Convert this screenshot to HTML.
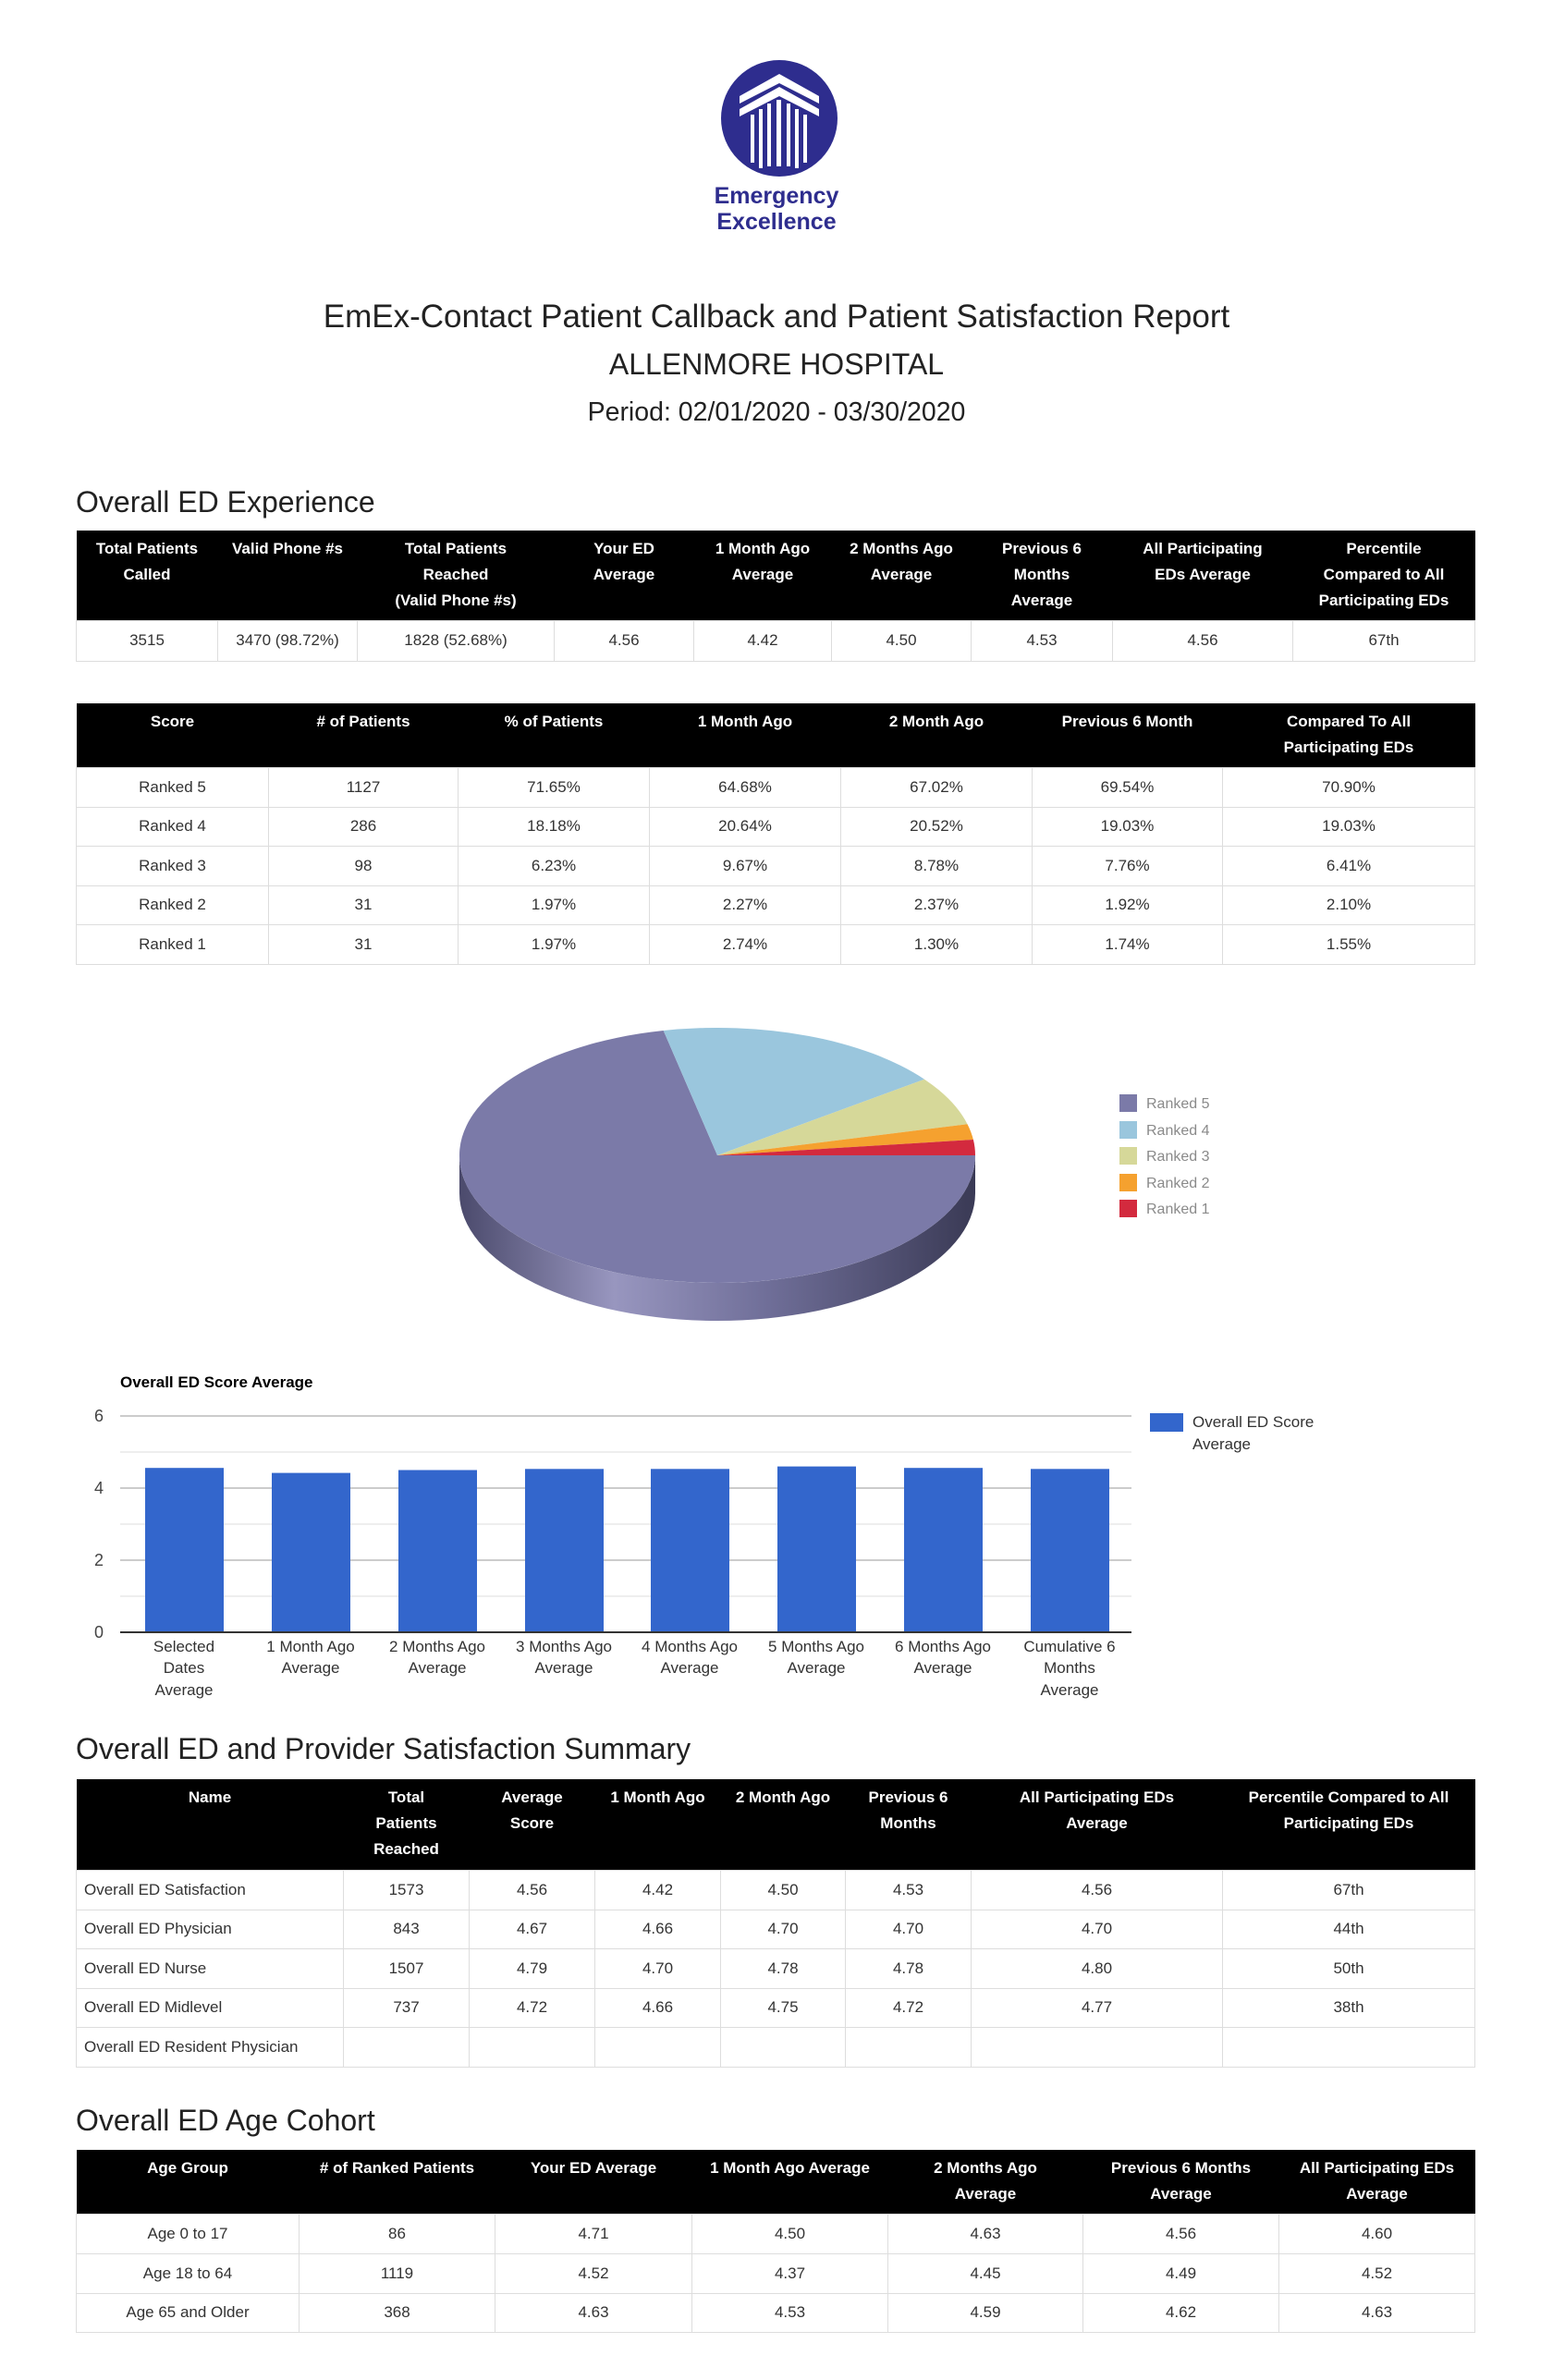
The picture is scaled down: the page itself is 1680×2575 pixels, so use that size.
<!DOCTYPE html>
<html><head><meta charset="utf-8">
<style>
html,body{margin:0;padding:0;background:#fff;}
body{width:1680px;height:2575px;position:relative;overflow:hidden;font-family:"Liberation Sans",Arial,sans-serif;color:#333;}
.abs{position:absolute;}
.c{text-align:center;left:0;width:1680px;color:#222;}
h2{position:absolute;left:82px;margin:0;font-weight:normal;font-size:32px;color:#222;line-height:1;}
table{position:absolute;border-collapse:collapse;table-layout:fixed;font-size:17px;}
th{background:#000;color:#fff;font-weight:bold;vertical-align:top;line-height:28px;padding:6px 0 0;text-align:center;border:0;white-space:nowrap;overflow:hidden;}
td{border:1.5px solid #ddd;text-align:center;padding:0;color:#333;}
td.l{text-align:left;padding-left:8px;}
</style></head><body>

<svg class="abs" style="left:0;top:0" width="1680" height="260">
  <circle cx="843" cy="128" r="63" fill="#2e2d8e"/>
  <polygon points="843,80 800,104 800,112 843,90 886,112 886,104" fill="#fff"/>
  <polygon points="843,94 800,118 800,126 843,104 886,126 886,118" fill="#fff"/>
  <g fill="#fff">
    <rect x="812" y="124" width="4" height="52"/>
    <rect x="821" y="118" width="4" height="64"/>
    <rect x="830" y="112" width="4" height="68"/>
    <rect x="840" y="108" width="5" height="72"/>
    <rect x="851" y="112" width="4" height="68"/>
    <rect x="860" y="118" width="4" height="64"/>
    <rect x="869" y="124" width="4" height="52"/>
  </g>
</svg>
<div class="abs c" style="top:198px;font-size:25px;font-weight:bold;color:#2e2d8e;line-height:28px;">Emergency<br>Excellence</div>

<div class="abs c" style="top:323px;font-size:35px;">EmEx-Contact Patient Callback and Patient Satisfaction Report</div>
<div class="abs c" style="top:376px;font-size:32px;">ALLENMORE HOSPITAL</div>
<div class="abs c" style="top:430px;font-size:28.5px;">Period: 02/01/2020 - 03/30/2020</div>

<h2 style="top:527px;">Overall ED Experience</h2>
<table style="left:82px;top:574px;width:1513px;">
<colgroup><col style="width:153px"><col style="width:151px"><col style="width:213px"><col style="width:151px"><col style="width:149px"><col style="width:151px"><col style="width:153px"><col style="width:195px"><col style="width:197px"></colgroup>
<tr style="height:97px"><th>Total Patients<br>Called</th><th>Valid Phone #s</th><th>Total Patients<br>Reached<br>(Valid Phone #s)</th><th>Your ED<br>Average</th><th>1 Month Ago<br>Average</th><th>2 Months Ago<br>Average</th><th>Previous 6<br>Months<br>Average</th><th>All Participating<br>EDs Average</th><th>Percentile<br>Compared to All<br>Participating EDs</th></tr>
<tr style="height:44px"><td>3515</td><td>3470 (98.72%)</td><td>1828 (52.68%)</td><td>4.56</td><td>4.42</td><td>4.50</td><td>4.53</td><td>4.56</td><td>67th</td></tr>
</table>

<table style="left:82px;top:761px;width:1513px;">
<colgroup><col style="width:208px"><col style="width:205px"><col style="width:207px"><col style="width:207px"><col style="width:207px"><col style="width:206px"><col style="width:273px"></colgroup>
<tr style="height:69px"><th>Score</th><th># of Patients</th><th>% of Patients</th><th>1 Month Ago</th><th>2 Month Ago</th><th>Previous 6 Month</th><th>Compared To All<br>Participating EDs</th></tr>
<tr style="height:43px"><td>Ranked 5</td><td>1127</td><td>71.65%</td><td>64.68%</td><td>67.02%</td><td>69.54%</td><td>70.90%</td></tr>
<tr style="height:42px"><td>Ranked 4</td><td>286</td><td>18.18%</td><td>20.64%</td><td>20.52%</td><td>19.03%</td><td>19.03%</td></tr>
<tr style="height:43px"><td>Ranked 3</td><td>98</td><td>6.23%</td><td>9.67%</td><td>8.78%</td><td>7.76%</td><td>6.41%</td></tr>
<tr style="height:42px"><td>Ranked 2</td><td>31</td><td>1.97%</td><td>2.27%</td><td>2.37%</td><td>1.92%</td><td>2.10%</td></tr>
<tr style="height:43px"><td>Ranked 1</td><td>31</td><td>1.97%</td><td>2.74%</td><td>1.30%</td><td>1.74%</td><td>1.55%</td></tr>
</table>

<svg class="abs" style="left:0;top:1080px" width="1680" height="400" viewBox="0 1080 1680 400">
  <defs>
    <linearGradient id="side" x1="497" x2="1055" y1="0" y2="0" gradientUnits="userSpaceOnUse">
      <stop offset="0" stop-color="#4b4a6c"/>
      <stop offset="0.3" stop-color="#9896bf"/>
      <stop offset="0.6" stop-color="#6f6e98"/>
      <stop offset="1" stop-color="#3a3a55"/>
    </linearGradient>
  </defs>
  <path d="M497,1250 L497,1291 A279,138 0 0 0 1055,1291 L1055,1250 A279,138 0 0 1 497,1250 Z" fill="url(#side)"/>
  <path d="M776,1250 L717.7,1115 A279,138 0 1 0 1055,1250 Z" fill="#7b7aa8"/>
  <path d="M776,1250 L1000,1167.7 A279,138 0 0 0 717.7,1115 Z" fill="#9ac6dd"/>
  <path d="M776,1250 L1046.5,1216.2 A279,138 0 0 0 1000,1167.7 Z" fill="#d6d899"/>
  <path d="M776,1250 L1052.9,1233 A279,138 0 0 0 1046.5,1216.2 Z" fill="#f5a12f"/>
  <path d="M776,1250 L1055,1250 A279,138 0 0 0 1052.9,1233 Z" fill="#d32a3e"/>
  <g font-family="Liberation Sans, Arial, sans-serif" font-size="16" fill="#8a8a8a">
    <rect x="1211" y="1184" width="19" height="19" fill="#7b7aa8"/><text x="1240" y="1199">Ranked 5</text>
    <rect x="1211" y="1213" width="19" height="19" fill="#9ac6dd"/><text x="1240" y="1228">Ranked 4</text>
    <rect x="1211" y="1241" width="19" height="19" fill="#d6d899"/><text x="1240" y="1256">Ranked 3</text>
    <rect x="1211" y="1270" width="19" height="19" fill="#f5a12f"/><text x="1240" y="1285">Ranked 2</text>
    <rect x="1211" y="1298" width="19" height="19" fill="#d32a3e"/><text x="1240" y="1313">Ranked 1</text>
  </g>
</svg>

<svg class="abs" style="left:0;top:1470px" width="1680" height="400" viewBox="0 1470 1680 400" font-family="Liberation Sans, Arial, sans-serif">
  <text x="130" y="1501" font-size="17" font-weight="bold" fill="#000">Overall ED Score Average</text>
  <g stroke-width="2">
    <line x1="130" x2="1224" y1="1532" y2="1532" stroke="#ccc"/>
    <line x1="130" x2="1224" y1="1571" y2="1571" stroke="#eee"/>
    <line x1="130" x2="1224" y1="1610" y2="1610" stroke="#ccc"/>
    <line x1="130" x2="1224" y1="1649" y2="1649" stroke="#eee"/>
    <line x1="130" x2="1224" y1="1688" y2="1688" stroke="#ccc"/>
    <line x1="130" x2="1224" y1="1727" y2="1727" stroke="#eee"/>
  </g>
  <g font-size="18" fill="#444" text-anchor="end">
    <text x="112" y="1538">6</text><text x="112" y="1616">4</text><text x="112" y="1694">2</text><text x="112" y="1772">0</text>
  </g>
  <g fill="#3366cc">
    <rect x="157" y="1588.2" width="85" height="177.8"/>
    <rect x="294" y="1593.6" width="85" height="172.4"/>
    <rect x="431" y="1590.5" width="85" height="175.5"/>
    <rect x="568" y="1589.3" width="85" height="176.7"/>
    <rect x="704" y="1589.3" width="85" height="176.7"/>
    <rect x="841" y="1586.6" width="85" height="179.4"/>
    <rect x="978" y="1588.2" width="85" height="177.8"/>
    <rect x="1115" y="1589.3" width="85" height="176.7"/>
  </g>
  <line x1="130" x2="1224" y1="1766" y2="1766" stroke="#333" stroke-width="2"/>
  <g font-size="17" fill="#333" text-anchor="middle">
    <text x="199" y="1787">Selected</text><text x="199" y="1810">Dates</text><text x="199" y="1834">Average</text>
    <text x="336" y="1787">1 Month Ago</text><text x="336" y="1810">Average</text>
    <text x="473" y="1787">2 Months Ago</text><text x="473" y="1810">Average</text>
    <text x="610" y="1787">3 Months Ago</text><text x="610" y="1810">Average</text>
    <text x="746" y="1787">4 Months Ago</text><text x="746" y="1810">Average</text>
    <text x="883" y="1787">5 Months Ago</text><text x="883" y="1810">Average</text>
    <text x="1020" y="1787">6 Months Ago</text><text x="1020" y="1810">Average</text>
    <text x="1157" y="1787">Cumulative 6</text><text x="1157" y="1810">Months</text><text x="1157" y="1834">Average</text>
  </g>
  <rect x="1244" y="1529" width="36" height="20" fill="#3366cc"/>
  <text x="1290" y="1544" font-size="17" fill="#333">Overall ED Score</text>
  <text x="1290" y="1568" font-size="17" fill="#333">Average</text>
</svg>

<h2 style="top:1876px;">Overall ED and Provider Satisfaction Summary</h2>
<table style="left:82px;top:1925px;width:1513px;">
<colgroup><col style="width:289px"><col style="width:136px"><col style="width:136px"><col style="width:136px"><col style="width:135px"><col style="width:136px"><col style="width:272px"><col style="width:273px"></colgroup>
<tr style="height:98px"><th>Name</th><th>Total<br>Patients<br>Reached</th><th>Average<br>Score</th><th>1 Month Ago</th><th>2 Month Ago</th><th>Previous 6<br>Months</th><th>All Participating EDs<br>Average</th><th>Percentile Compared to All<br>Participating EDs</th></tr>
<tr style="height:43px"><td class="l">Overall ED Satisfaction</td><td>1573</td><td>4.56</td><td>4.42</td><td>4.50</td><td>4.53</td><td>4.56</td><td>67th</td></tr>
<tr style="height:42px"><td class="l">Overall ED Physician</td><td>843</td><td>4.67</td><td>4.66</td><td>4.70</td><td>4.70</td><td>4.70</td><td>44th</td></tr>
<tr style="height:43px"><td class="l">Overall ED Nurse</td><td>1507</td><td>4.79</td><td>4.70</td><td>4.78</td><td>4.78</td><td>4.80</td><td>50th</td></tr>
<tr style="height:42px"><td class="l">Overall ED Midlevel</td><td>737</td><td>4.72</td><td>4.66</td><td>4.75</td><td>4.72</td><td>4.77</td><td>38th</td></tr>
<tr style="height:43px"><td class="l">Overall ED Resident Physician</td><td></td><td></td><td></td><td></td><td></td><td></td><td></td></tr>
</table>

<h2 style="top:2278px;">Overall ED Age Cohort</h2>
<table style="left:82px;top:2326px;width:1513px;">
<colgroup><col style="width:241px"><col style="width:212px"><col style="width:213px"><col style="width:212px"><col style="width:211px"><col style="width:212px"><col style="width:212px"></colgroup>
<tr style="height:69px"><th>Age Group</th><th># of Ranked Patients</th><th>Your ED Average</th><th>1 Month Ago Average</th><th>2 Months Ago<br>Average</th><th>Previous 6 Months<br>Average</th><th>All Participating EDs<br>Average</th></tr>
<tr style="height:43px"><td>Age 0 to 17</td><td>86</td><td>4.71</td><td>4.50</td><td>4.63</td><td>4.56</td><td>4.60</td></tr>
<tr style="height:43px"><td>Age 18 to 64</td><td>1119</td><td>4.52</td><td>4.37</td><td>4.45</td><td>4.49</td><td>4.52</td></tr>
<tr style="height:42px"><td>Age 65 and Older</td><td>368</td><td>4.63</td><td>4.53</td><td>4.59</td><td>4.62</td><td>4.63</td></tr>
</table>

</body></html>
